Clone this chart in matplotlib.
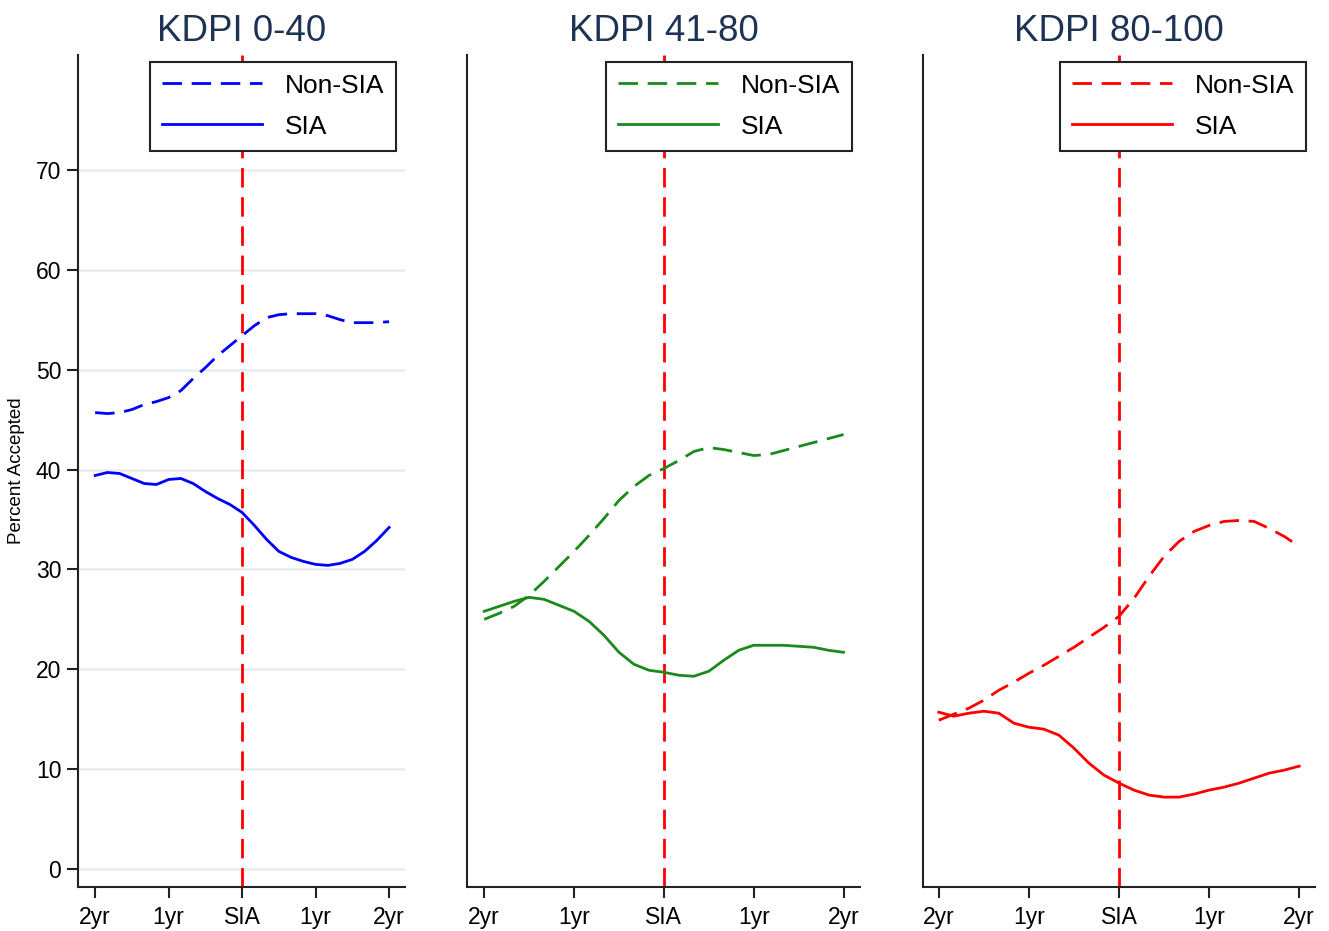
import matplotlib
matplotlib.use("Agg")
import matplotlib.pyplot as plt

plt.rcParams['font.family'] = ['Liberation Sans', 'DejaVu Sans']

months = [-24, -22, -20, -18, -16, -14, -12, -10, -8, -6, -4, -2, 0,
          2, 4, 6, 8, 10, 12, 14, 16, 18, 20, 22, 24]

titles = ["KDPI 0-40", "KDPI 41-80", "KDPI 80-100"]
colors = ["#0000ff", "#1a8a1a", "#ff0000"]

non_sia_low = [45.7, 45.6, 45.7, 46.0, 46.5, 46.8, 47.2, 47.9, 49.1, 50.2, 51.4, 52.4, 53.4,
               54.4, 55.2, 55.5, 55.6, 55.6, 55.6, 55.4, 55.0, 54.7, 54.7, 54.7, 54.8]
sia_low = [39.4, 39.7, 39.6, 39.1, 38.6, 38.5, 39.0, 39.1, 38.6, 37.8, 37.1, 36.5, 35.7,
           34.4, 33.0, 31.8, 31.2, 30.8, 30.5, 30.4, 30.6, 31.0, 31.8, 32.9, 34.2]

non_sia_mid = [25.0, 25.6, 26.3, 27.4, 28.8, 30.3, 31.8, 33.4, 35.1, 36.9, 38.3, 39.4, 40.1,
               40.9, 41.8, 42.2, 42.0, 41.7, 41.4, 41.5, 41.9, 42.3, 42.7, 43.1, 43.5]
sia_mid = [25.8, 26.3, 26.8, 27.2, 27.0, 26.4, 25.8, 24.8, 23.4, 21.7, 20.5, 19.9, 19.7,
           19.4, 19.3, 19.8, 20.9, 21.9, 22.4, 22.4, 22.4, 22.3, 22.2, 21.9, 21.7]

non_sia_high = [14.9, 15.5, 16.1, 16.9, 17.9, 18.7, 19.6, 20.4, 21.3, 22.2, 23.2, 24.2, 25.3,
                27.1, 29.3, 31.3, 32.8, 33.8, 34.4, 34.8, 34.9, 34.8, 34.1, 33.3, 32.3]
sia_high = [15.7, 15.3, 15.6, 15.8, 15.6, 14.6, 14.2, 14.0, 13.4, 12.1, 10.6, 9.4, 8.6,
            7.9, 7.4, 7.2, 7.2, 7.5, 7.9, 8.2, 8.6, 9.1, 9.6, 9.9, 10.3]

non_sia = [non_sia_low, non_sia_mid, non_sia_high]
sia = [sia_low, sia_mid, sia_high]

xtick_pos = [-24, -12, 0, 12, 24]
xtick_labels = ["2yr", "1yr", "SIA", "1yr", "2yr"]
ytick_pos = [0, 10, 20, 30, 40, 50, 60, 70]

W, H = 1329, 931
fig = plt.figure(figsize=(W / 100, H / 100), dpi=100)

panels_px = [(78, 405), (467, 860), (923, 1315)]
xlims = [(-26.8, 26.6), (-26.3, 26.2), (-26.1, 26.1)]
top_px, bot_px = 55, 887
legend_right = [0.972, 0.98, 0.977]

for i in range(3):
    l, r = panels_px[i]
    ax = fig.add_axes([l / W, 1 - bot_px / H, (r - l) / W, (bot_px - top_px) / H])
    ax.set_xlim(*xlims[i])
    ax.set_ylim(-1.8, 81.5)
    for s in ["top", "right"]:
        ax.spines[s].set_visible(False)
    for s in ["left", "bottom"]:
        ax.spines[s].set_linewidth(1.5)
        ax.spines[s].set_color("#222222")
    ax.set_xticks(xtick_pos)
    ax.set_xticklabels(xtick_labels)
    ax.tick_params(axis="x", length=8, width=1.5, labelsize=16.5, pad=6, color="#222222")
    if i == 0:
        ax.set_yticks(ytick_pos)
        ax.tick_params(axis="y", length=8, width=1.5, labelsize=16.5, pad=4, color="#222222")
        for yv in ytick_pos:
            ax.axhline(yv, color="#e6eef0", lw=1.8, zorder=0)
        ax.set_ylabel("Percent Accepted", fontsize=13.5, labelpad=8)
    else:
        ax.set_yticks([])

    ax.axvline(0, color="#ff0000", lw=2, dashes=(7, 3.5), zorder=1)
    ax.plot(months, non_sia[i], color=colors[i], lw=2, dashes=(7, 3.5), label="Non-SIA", zorder=3)
    ax.plot(months, sia[i], color=colors[i], lw=2, label="SIA", zorder=3)

    leg = ax.legend(loc="upper right", bbox_to_anchor=(legend_right[i], 0.992),
                    fontsize=19, handlelength=3.8, handletextpad=0.85,
                    labelspacing=0.65, borderpad=0.45, borderaxespad=0,
                    fancybox=False, framealpha=1, edgecolor="#222222")
    leg.get_frame().set_linewidth(1.5)
    leg.set_zorder(5)

    ax.set_title(titles[i], fontsize=26.5, color="#1e3354", pad=10)

fig.savefig("out.png", dpi=100)
